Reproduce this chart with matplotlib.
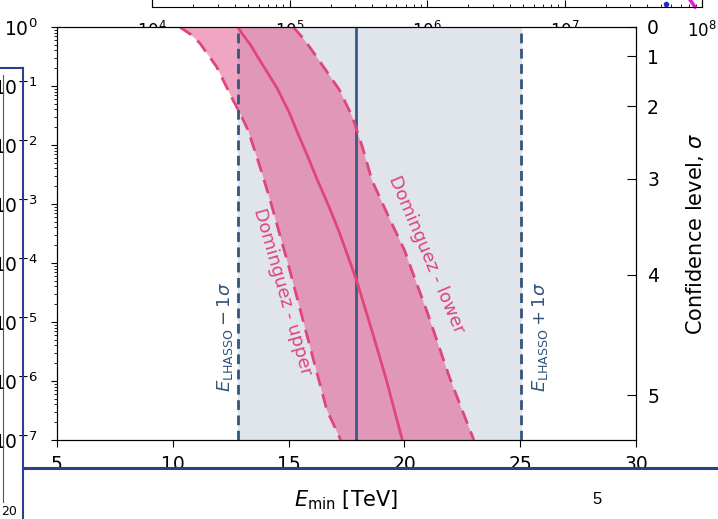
import matplotlib
matplotlib.use("Agg")
import matplotlib.pyplot as plt
from matplotlib.lines import Line2D
import numpy as np

# p-value curves (x in TeV, log10 p)
upper_x = [10.3, 10.75, 11.16, 11.9, 12.6, 12.9, 13.25, 13.75, 14.2, 15.05, 15.85, 16.65, 17.25]
upper_logp = [0.0, -0.12, -0.27, -0.68, -1.24, -1.46, -1.75, -2.35, -2.93, -4.12, -5.31, -6.49, -7.0]

central_x = [12.8, 12.97, 13.35, 13.75, 14.48, 15.04, 15.34, 15.8, 16.25, 16.75, 17.2, 17.93, 18.6, 19.22, 19.91]
central_logp = [0.0, -0.1, -0.3, -0.56, -1.02, -1.46, -1.75, -2.17, -2.6, -3.05, -3.49, -4.29, -5.15, -5.98, -7.0]

lower_x = [15.2, 15.65, 16.2, 17.2, 17.76, 18.2, 18.6, 19.3, 20.0, 21.0, 21.94, 22.5, 23.0]
lower_logp = [0.0, -0.2, -0.5, -1.07, -1.53, -2.05, -2.6, -3.2, -3.78, -4.85, -5.93, -6.5, -7.0]

e_lhasso = 17.93
e_lo, e_hi = 12.8, 25.05

x_ticks = [5, 10, 15, 20, 25, 30]
sigma_levels = [0, 1, 2, 3, 4, 5]
sigma_pvals = [1.0, 0.3173, 0.0455, 0.0027, 6.334e-5, 5.733e-7]

# partly hidden chart behind, at the top
top_ticks = [1e4, 1e5, 1e6, 1e7, 1e8]
top_dot = (5.5e7, 0.12)
top_line_x = [8.2e7, 8.9e7]
top_line_y = [0.27, 0.0]

PINK = "#e0457b"
SLATE = "#34557a"
W, H = 718, 519

fig = plt.figure(figsize=(W / 100, H / 100), dpi=100)

ax_top = fig.add_axes([152 / W, (H - 7) / H, (702 - 152) / W, 26 / H])
ax_top.set_xscale("log")
ax_top.set_xlim(1e4, 1e8)
ax_top.set_ylim(0, 1)
ax_top.set_xticks(top_ticks)
ax_top.set_yticks([])
ax_top.tick_params(axis="x", which="major", direction="in", length=5, pad=10, labelsize=12)
ax_top.tick_params(axis="x", which="minor", direction="in", length=2.5)
ax_top.plot(*top_dot, "o", color="#1a2fd0", ms=3, clip_on=False)
ax_top.plot(top_line_x, top_line_y, color="#e020d0", lw=2.5, clip_on=False)

ax = fig.add_axes([57 / W, (H - 440) / H, (636 - 57) / W, (440 - 27) / H])
ax.set_zorder(3)
ax.set_facecolor("white")
ax.set_yscale("log")
ax.set_xlim(5, 30)
ax.set_ylim(1e-7, 1)

ax.axvspan(e_lo, e_hi, color="#dfe5eb", zorder=0)

up_p = 10 ** np.array(upper_logp)
lo_p = 10 ** np.array(lower_logp)
ax.fill(np.concatenate([upper_x, lower_x[::-1]]),
        np.concatenate([up_p, lo_p[::-1]]),
        color="#e34d86", alpha=0.5, lw=0, zorder=1)
ax.plot(upper_x, up_p, color=PINK, lw=2, ls=(0, (5, 3)), zorder=3)
ax.plot(lower_x, lo_p, color=PINK, lw=2, ls=(0, (5, 3)), zorder=3)
ax.plot(central_x, 10 ** np.array(central_logp), color=PINK, lw=2, zorder=3)

ax.axvline(e_lo, color=SLATE, lw=2, ls=(0, (3.5, 2)), zorder=4)
ax.axvline(e_hi, color=SLATE, lw=2, ls=(0, (3.5, 2)), zorder=4)
ax.axvline(e_lhasso, color="#3d5a82", lw=2, zorder=2)

ax.text(12.25, 10 ** -5.25, r"$E_{\rm LHASSO} - 1\sigma$", rotation=90, color=SLATE,
        fontsize=13, ha="center", va="center")
ax.text(25.85, 10 ** -5.25, r"$E_{\rm LHASSO} + 1\sigma$", rotation=90, color=SLATE,
        fontsize=13, ha="center", va="center")
ax.text(14.74, 10 ** -4.49, "Dominguez - upper", rotation=-74, color=PINK,
        fontsize=13, ha="center", va="center", rotation_mode="anchor")
ax.text(20.95, 10 ** -3.86, "Dominguez - lower", rotation=-67, color=PINK,
        fontsize=13, ha="center", va="center", rotation_mode="anchor")

ax.set_xticks(x_ticks)
ax.tick_params(axis="x", length=5, pad=6, labelsize=13.5)
ax.tick_params(axis="y", which="major", length=4, pad=10, labelsize=13.5)
ax.tick_params(axis="y", which="minor", length=2.5)
ax.set_xlabel(r"$E_{\rm min}$ [TeV]", fontsize=15, labelpad=10)

ax2 = ax.twinx()
ax2.set_yscale("log")
ax2.set_ylim(1e-7, 1)
ax2.set_yticks(sigma_pvals)
ax2.set_yticklabels([str(s) for s in sigma_levels])
ax2.yaxis.set_minor_locator(matplotlib.ticker.NullLocator())
ax2.tick_params(axis="y", direction="in", length=6.5, pad=8, labelsize=13.5)
ax2.set_ylabel(r"Confidence level, $\sigma$", fontsize=15)
ax2.yaxis.set_label_coords(1.083, 0.5)

# slide overlay pieces
tf = fig.transFigure
blue = "#2b3f8f"
fig.add_artist(Line2D([23 / W, 23 / W], [0, (H - 68) / H], color=blue, lw=1.5, transform=tf, zorder=10))
fig.add_artist(Line2D([0, 23 / W], [(H - 68) / H, (H - 68) / H], color=blue, lw=1.5, transform=tf, zorder=10))
fig.add_artist(Line2D([23 / W, 1], [(H - 468) / H, (H - 468) / H], color=blue, lw=2.2, transform=tf, zorder=10))
fig.add_artist(Line2D([3 / W, 3 / W], [(H - 502) / H, (H - 75) / H], color="#555555", lw=0.8, transform=tf, zorder=10))
fig.text(1 / W, 1 / H, "20", fontsize=9, ha="left", va="bottom")
fig.text(597 / W, (H - 500) / H, "5", fontsize=12, family="Liberation Sans", ha="center", va="center")

fig.savefig("out.png", dpi=100)
